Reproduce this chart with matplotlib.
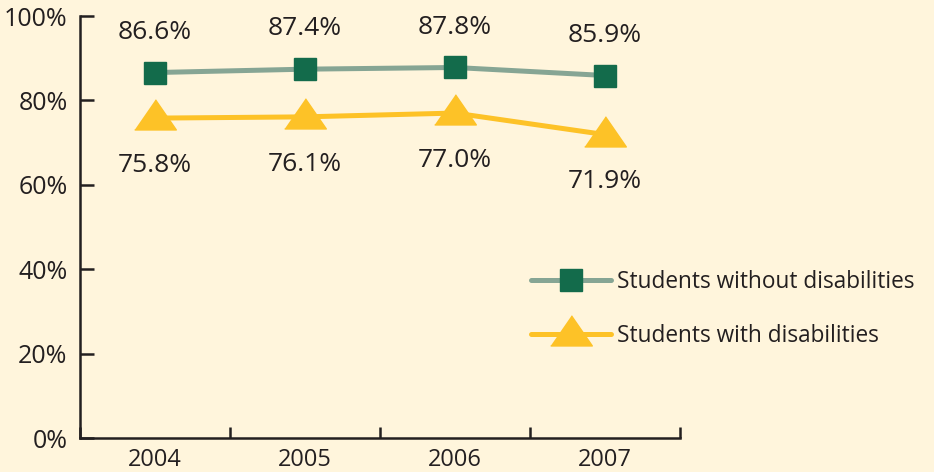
import numpy as np
import matplotlib.pyplot as plt
from matplotlib.lines import Line2D

years = ["2004", "2005", "2006", "2007"]
without_dis = [86.6, 87.4, 87.8, 85.9]
with_dis = [75.8, 76.1, 77.0, 71.9]
y_ticks = [0, 20, 40, 60, 80, 100]

bg = "#FFF5DC"
dark = "#231F20"
green_line = "#86A594"
green_mark = "#136B4B"
yellow = "#FDC227"

plt.rcParams['font.family'] = ['Open Sans', 'DejaVu Sans']

fig = plt.figure(figsize=(9.34, 4.72), dpi=100, facecolor=bg)
ax = fig.add_axes([80 / 934, 34 / 472, 600 / 934, 422 / 472])
ax.set_facecolor(bg)

x = np.arange(len(years))
tri = [(-1, -0.55), (1, -0.55), (0, 0.9)]

ax.plot(x, without_dis, color=green_line, lw=3.6, marker="s", ms=16,
        mfc=green_mark, mec=green_mark, solid_capstyle="round", zorder=3)
ax.plot(x, with_dis, color=yellow, lw=3.6, marker=tri, ms=30,
        mfc=yellow, mec=yellow, solid_capstyle="round", zorder=3)

for xi, v in zip(x, without_dis):
    ax.annotate(f"{v:.1f}%", (xi, v), xytext=(0, 29), textcoords="offset points",
                ha="center", va="center", fontsize=19, color=dark)
for xi, v in zip(x, with_dis):
    ax.annotate(f"{v:.1f}%", (xi, v), xytext=(0, -34), textcoords="offset points",
                ha="center", va="center", fontsize=19, color=dark)

ax.set_xlim(-0.5, len(years) - 0.5)
ax.set_ylim(0, 100)

for s in ["top", "right"]:
    ax.spines[s].set_visible(False)
for s in ["left", "bottom"]:
    ax.spines[s].set_color(dark)
    ax.spines[s].set_linewidth(1.8)

ax.set_yticks(y_ticks)
ax.set_yticklabels([f"{t}%" for t in y_ticks])
ax.tick_params(axis="y", direction="in", length=10, width=1.8, color=dark,
               labelsize=18, labelcolor=dark, pad=9)

ax.set_xticks(np.arange(-0.5, len(years), 1.0))
ax.set_xticklabels([])
ax.set_xticks(x, minor=True)
ax.set_xticklabels(years, minor=True)
ax.tick_params(axis="x", which="major", direction="in", length=8, width=1.8, color=dark)
ax.tick_params(axis="x", which="minor", length=0, labelsize=17, labelcolor=dark, pad=7)

handles = [
    Line2D([], [], color=green_line, lw=3.6, marker="s", ms=16,
           mfc=green_mark, mec=green_mark, solid_capstyle="round"),
    Line2D([], [], color=yellow, lw=3.6, marker=tri, ms=30,
           mfc=yellow, mec=yellow, solid_capstyle="round"),
]
fig.legend(handles, ["Students without disabilities", "Students with disabilities"],
           loc="center left", bbox_to_anchor=(520 / 934, 1 - 309 / 472),
           frameon=False, fontsize=16.3, handlelength=3.5, handletextpad=0.3,
           labelspacing=1.3, labelcolor=dark, borderpad=0)

fig.savefig("out.png", dpi=100, facecolor=bg)
